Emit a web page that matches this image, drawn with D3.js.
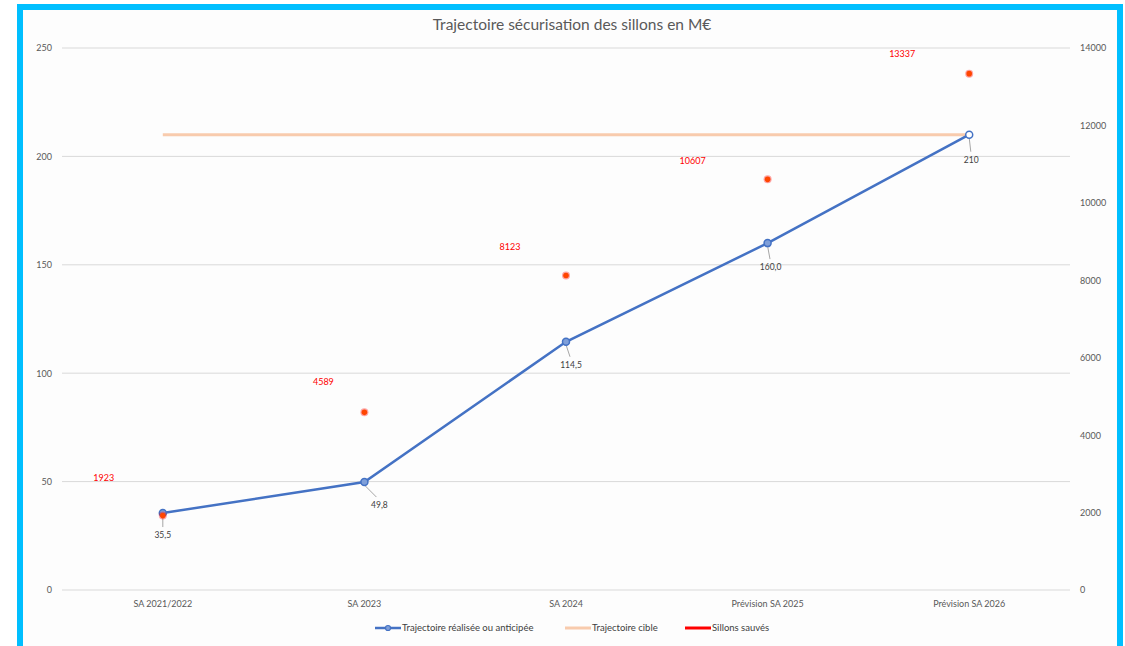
<!DOCTYPE html>
<html>
<head>
<meta charset="utf-8">
<script src="https://cdn.jsdelivr.net/npm/d3@7"></script>
<style>
  html, body { margin: 0; padding: 0; background: #ffffff; }
  svg { display: block; font-family: Lato, "Open Sans", sans-serif; }
</style>
</head>
<body>
<svg id="chart" width="1125" height="646"></svg>
<script>
// Categories (school years)
const categories = ["SA 2021/2022", "SA 2023", "SA 2024", "Prévision SA 2025", "Prévision SA 2026"];
// Achieved / planned trajectory, M€ (left axis)
const trajectoire = [35.5, 49.8, 114.5, 160.0, 210];
const trajectoireLabels = ["35,5", "49,8", "114,5", "160,0", "210"];
// Target trajectory, M€ (left axis)
const cible = [210, 210, 210, 210, 210];
// Saved train paths (right axis)
const sillons = [1923, 4589, 8123, 10607, 13337];
// Axis ticks
const leftTicks = [0, 50, 100, 150, 200, 250];
const rightTicks = [0, 2000, 4000, 6000, 8000, 10000, 12000, 14000];

// Label placement (pixel offsets from each point)
const trajLabelOffsets = [[0, 22], [15, 23], [5, 23], [3, 24], [2, 25]];
const sillonLabelOffsets = [[-59, -38], [-41, -30], [-56, -29], [-75, -18], [-67, -20]];

const svg = d3.select("#chart");
const W = 1125, H = 646;
const plot = { left: 62, right: 1070, top: 48, bottom: 590 };

// Frame
svg.append("rect").attr("x", 0).attr("y", 0).attr("width", W).attr("height", H).attr("fill", "#ffffff");
svg.append("rect").attr("x", 20).attr("y", 7).attr("width", 1100).attr("height", 645)
  .attr("fill", "#fdfdfd").attr("stroke", "#00BFFF").attr("stroke-width", 6);

const x = d3.scaleBand().domain(categories).range([plot.left, plot.right]);
const cx = d => x(d) + x.bandwidth() / 2;
const yL = d3.scaleLinear().domain([0, 250]).range([plot.bottom, plot.top]);
const yR = d3.scaleLinear().domain([0, 14000]).range([plot.bottom, plot.top]);

// Title
svg.append("text").attr("x", 572).attr("y", 30).attr("text-anchor", "middle")
  .attr("font-size", 15.5).attr("fill", "#595959").text("Trajectoire sécurisation des sillons en M€");

// Gridlines
svg.append("g").selectAll("line").data(leftTicks).join("line")
  .attr("x1", plot.left).attr("x2", plot.right)
  .attr("y1", d => yL(d)).attr("y2", d => yL(d))
  .attr("stroke", "#d9d9d9").attr("stroke-width", 1);

// Left axis
const axL = svg.append("g").attr("transform", `translate(${plot.left},0)`)
  .call(d3.axisLeft(yL).tickValues(leftTicks).tickSize(0).tickPadding(10));
axL.select(".domain").remove();
axL.selectAll("text").attr("font-size", 9).attr("fill", "#595959").attr("font-family", "Lato, sans-serif");

// Right axis
const axR = svg.append("g").attr("transform", `translate(${plot.right},0)`)
  .call(d3.axisRight(yR).tickValues(rightTicks).tickFormat(d3.format("d")).tickSize(0).tickPadding(10));
axR.select(".domain").remove();
axR.selectAll("text").attr("font-size", 9).attr("fill", "#595959").attr("font-family", "Lato, sans-serif");

// Bottom axis labels
const axB = svg.append("g").attr("transform", `translate(0,${plot.bottom})`)
  .call(d3.axisBottom(x).tickSize(0).tickPadding(11));
axB.select(".domain").remove();
axB.selectAll("text").attr("font-size", 9).attr("fill", "#595959").attr("font-family", "Lato, sans-serif");

// Target line
const lineL = d3.line().x((d, i) => cx(categories[i])).y(d => yL(d));
svg.append("path").datum(cible).attr("d", lineL)
  .attr("fill", "none").attr("stroke", "#F8CBAD").attr("stroke-width", 3);

// Achieved trajectory line
svg.append("path").datum(trajectoire).attr("d", lineL)
  .attr("fill", "none").attr("stroke", "#4472C4").attr("stroke-width", 2.5);

// Leader lines and data labels for the trajectory
const tl = svg.append("g");
trajectoire.forEach((v, i) => {
  const px = cx(categories[i]), py = yL(v);
  const [dx, dy] = trajLabelOffsets[i];
  tl.append("line").attr("x1", px).attr("y1", py + 3)
    .attr("x2", px + dx * 0.8).attr("y2", py + dy - 8)
    .attr("stroke", "#a6a6a6").attr("stroke-width", 1);
  tl.append("text").attr("x", px + dx).attr("y", py + dy + 3)
    .attr("text-anchor", "middle").attr("font-size", 8.5).attr("fill", "#404040")
    .text(trajectoireLabels[i]);
});

// Trajectory markers
svg.append("g").selectAll("circle").data(trajectoire).join("circle")
  .attr("cx", (d, i) => cx(categories[i])).attr("cy", d => yL(d)).attr("r", 3.5)
  .attr("fill", (d, i) => i === trajectoire.length - 1 ? "#ffffff" : "#7f9fd9")
  .attr("stroke", "#4472C4").attr("stroke-width", 1.5);

// Saved train paths markers
const sg = svg.append("g");
sg.selectAll("circle.halo").data(sillons).join("circle").attr("class", "halo")
  .attr("cx", (d, i) => cx(categories[i])).attr("cy", d => yR(d)).attr("r", 4)
  .attr("fill", "#ff0000").attr("opacity", 0.35);
sg.selectAll("circle.dot").data(sillons).join("circle").attr("class", "dot")
  .attr("cx", (d, i) => cx(categories[i])).attr("cy", d => yR(d)).attr("r", 2.8)
  .attr("fill", "#FF4500");
sg.selectAll("text").data(sillons).join("text")
  .attr("x", (d, i) => cx(categories[i]) + sillonLabelOffsets[i][0])
  .attr("y", (d, i) => yR(d) + sillonLabelOffsets[i][1] + 3)
  .attr("text-anchor", "middle").attr("font-size", 9).attr("fill", "#ff0000")
  .text(d => d);

// Legend
const lg = svg.append("g").attr("font-size", 9.5).attr("fill", "#404040");
const ly = 628;
lg.append("line").attr("x1", 375).attr("x2", 401).attr("y1", ly).attr("y2", ly)
  .attr("stroke", "#4472C4").attr("stroke-width", 2.5);
lg.append("circle").attr("cx", 388).attr("cy", ly).attr("r", 2.5)
  .attr("fill", "#7f9fd9").attr("stroke", "#4472C4").attr("stroke-width", 1.2);
lg.append("text").attr("x", 402).attr("y", ly + 3).text("Trajectoire réalisée ou anticipée");
lg.append("line").attr("x1", 565).attr("x2", 591).attr("y1", ly).attr("y2", ly)
  .attr("stroke", "#F8CBAD").attr("stroke-width", 3);
lg.append("text").attr("x", 592).attr("y", ly + 3).text("Trajectoire cible");
lg.append("line").attr("x1", 685).attr("x2", 711).attr("y1", ly).attr("y2", ly)
  .attr("stroke", "#FF0000").attr("stroke-width", 3);
lg.append("text").attr("x", 712).attr("y", ly + 3).text("Sillons sauvés");
</script>
</body>
</html>
